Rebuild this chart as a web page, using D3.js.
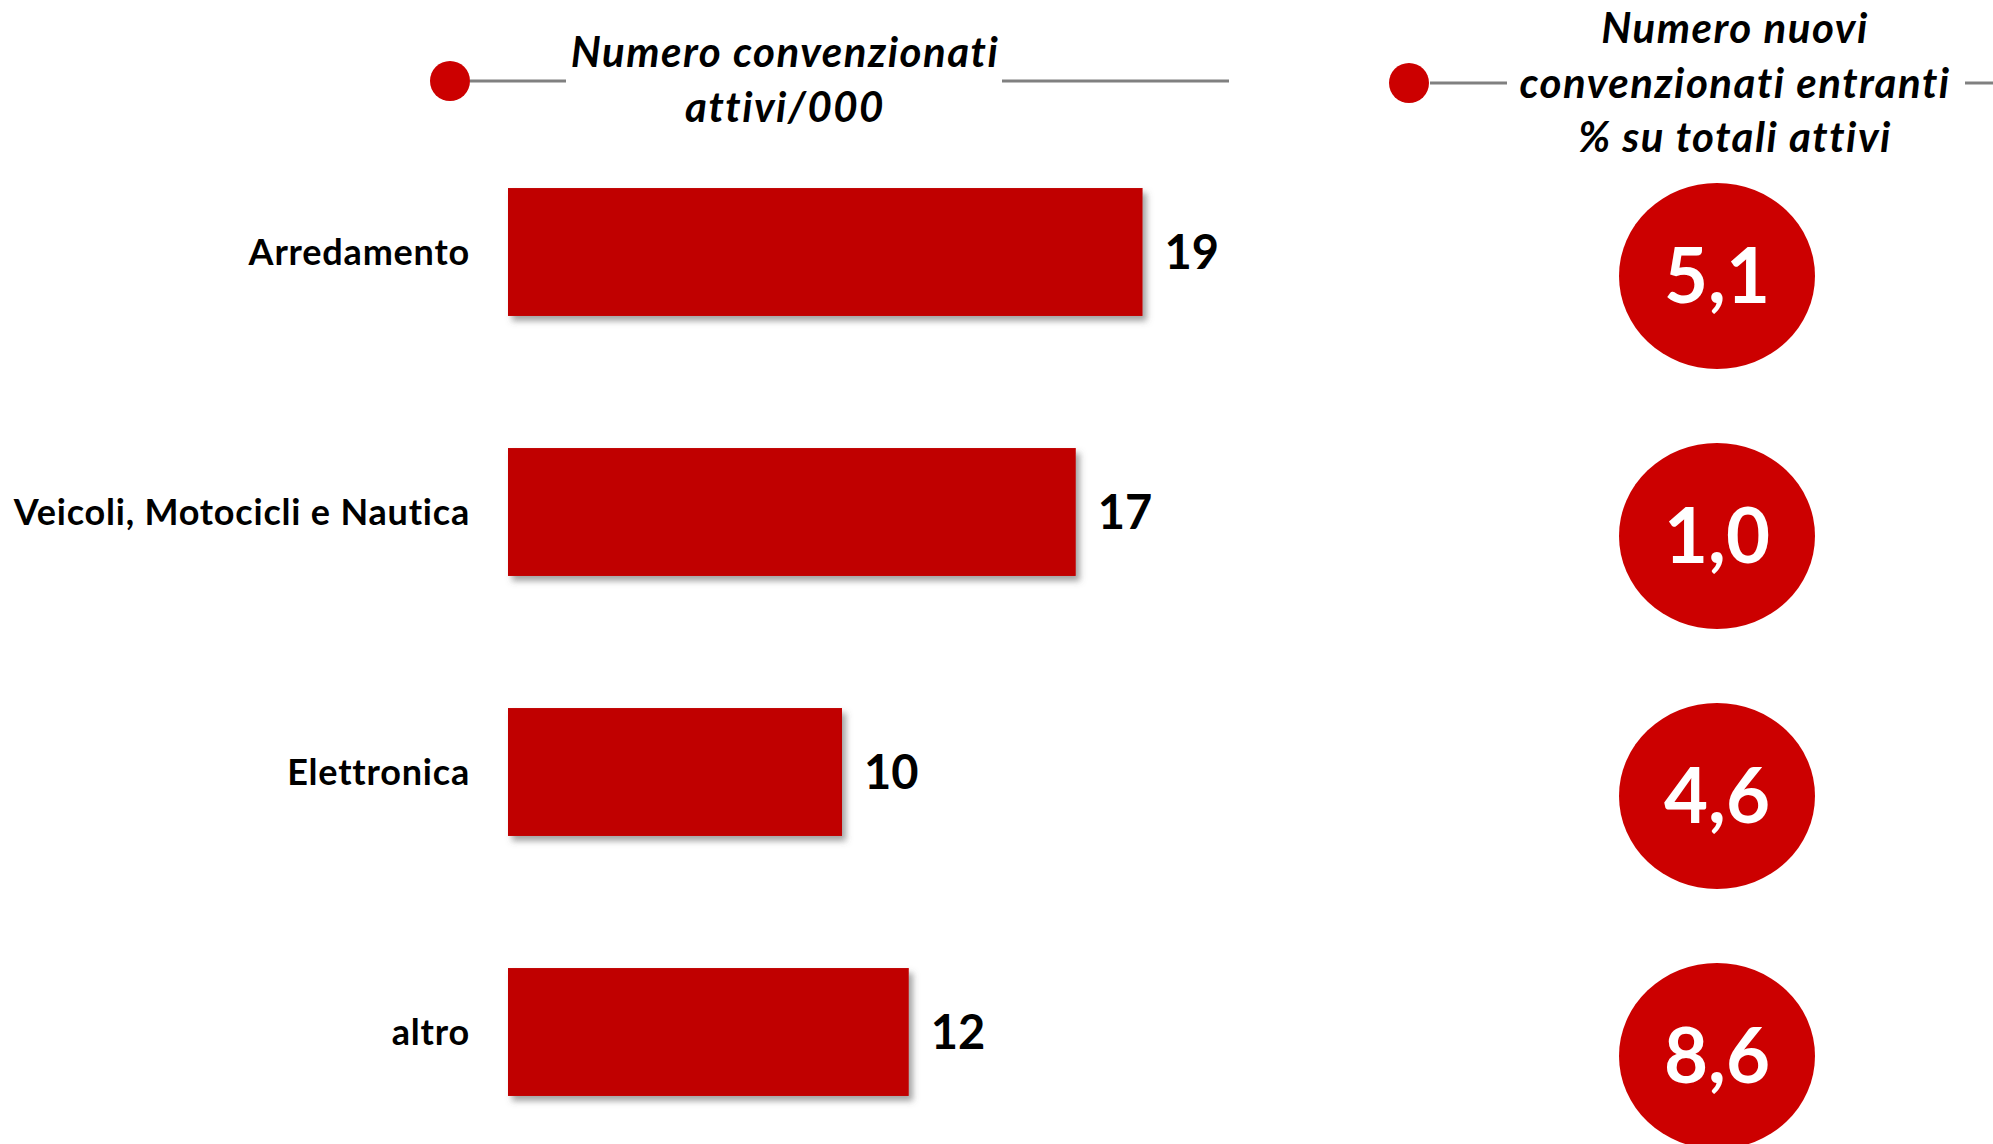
<!DOCTYPE html>
<html>
<head>
<meta charset="utf-8">
<script src="https://cdn.jsdelivr.net/npm/d3@7"></script>
<style>
  html, body { margin: 0; padding: 0; background: #ffffff; }
  svg { display: block; font-family: Lato, "Open Sans", "Noto Sans", sans-serif;
        font-variant-ligatures: none; font-feature-settings: "liga" 0, "clig" 0; }
</style>
</head>
<body>
<svg id="chart" width="1993" height="1144"></svg>
<script>
// Categories and the two measures shown for each of them
const categories = ["Arredamento", "Veicoli, Motocicli e Nautica", "Elettronica", "altro"];
const activeThousands = [19, 17, 10, 12];          // Numero convenzionati attivi/000
const newEntrantsPct = [5.1, 1.0, 4.6, 8.6];       // nuovi entranti, % su totali attivi

// Header texts
const leftTitle = ["Numero convenzionati", "attivi/000"];
const rightTitle = ["Numero nuovi", "convenzionati entranti", "% su totali attivi"];

const barColor = "#C00000";
const dotColor = "#CC0000";
const ruleColor = "#808080";

const svg = d3.select("#chart");

// Soft drop shadow under the bars
const defs = svg.append("defs");
const shadow = defs.append("filter").attr("id", "barShadow")
  .attr("x", "-5%").attr("y", "-10%").attr("width", "115%").attr("height", "130%");
shadow.append("feDropShadow")
  .attr("dx", 4).attr("dy", 5).attr("stdDeviation", 3)
  .attr("flood-color", "#555").attr("flood-opacity", 0.55);

// Scales
const y = d3.scaleBand()
  .domain(categories)
  .range([122, 1162])
  .paddingInner(0.508)
  .paddingOuter(0.254);

const x = d3.scaleLinear()
  .domain([0, 20])
  .range([508, 1176]);

const fmtComma = v => d3.format(".1f")(v).replace(".", ",");

const rows = categories.map((c, i) => ({ cat: c, active: activeThousands[i], pct: newEntrantsPct[i] }));

const titleStyle = sel => sel
  .attr("text-anchor", "middle")
  .attr("font-size", 42).attr("font-weight", 700).attr("font-style", "italic")
  .attr("letter-spacing", 1.5).attr("fill", "#000");

// Header: marker dot, rule and title for the bars
const hdrL = svg.append("g");
hdrL.append("line").attr("x1", 470).attr("x2", 566).attr("y1", 81).attr("y2", 81)
  .attr("stroke", ruleColor).attr("stroke-width", 3);
hdrL.append("line").attr("x1", 1002).attr("x2", 1229).attr("y1", 81).attr("y2", 81)
  .attr("stroke", ruleColor).attr("stroke-width", 3);
hdrL.append("circle").attr("cx", 450).attr("cy", 81).attr("r", 20).attr("fill", dotColor);
hdrL.append("text").call(titleStyle)
  .selectAll("tspan").data(leftTitle).join("tspan")
  .attr("x", 785).attr("y", (d, i) => 67 + i * 55).text(d => d);

// Header for the circles
const hdrR = svg.append("g");
hdrR.append("line").attr("x1", 1430).attr("x2", 1507).attr("y1", 83).attr("y2", 83)
  .attr("stroke", ruleColor).attr("stroke-width", 3);
hdrR.append("line").attr("x1", 1965).attr("x2", 1993).attr("y1", 83).attr("y2", 83)
  .attr("stroke", ruleColor).attr("stroke-width", 3);
hdrR.append("circle").attr("cx", 1409).attr("cy", 83).attr("r", 20).attr("fill", dotColor);
hdrR.append("text").call(titleStyle)
  .selectAll("tspan").data(rightTitle).join("tspan")
  .attr("x", 1735).attr("y", (d, i) => 43 + i * 54.5).text(d => d);

// Category labels
svg.append("g").selectAll("text").data(rows).join("text")
  .attr("x", 470)
  .attr("y", d => y(d.cat) + y.bandwidth() / 2)
  .attr("dy", "0.36em")
  .attr("text-anchor", "end")
  .attr("font-size", 36).attr("font-weight", 700).attr("letter-spacing", 0.8).attr("fill", "#000")
  .text(d => d.cat);

// Bars
svg.append("g").selectAll("rect").data(rows).join("rect")
  .attr("x", x(0))
  .attr("y", d => y(d.cat))
  .attr("width", d => x(d.active) - x(0))
  .attr("height", y.bandwidth())
  .attr("fill", barColor)
  .attr("filter", "url(#barShadow)");

// Bar value labels
svg.append("g").selectAll("text").data(rows).join("text")
  .attr("x", d => x(d.active) + 22)
  .attr("y", d => y(d.cat) + y.bandwidth() / 2)
  .attr("dy", "0.36em")
  .attr("font-size", 47).attr("font-weight", 700).attr("fill", "#000")
  .text(d => d.active);

// Circles with the share of new entrants
const bubbles = svg.append("g").selectAll("g").data(rows).join("g")
  .attr("transform", d => `translate(1717,${y(d.cat) + y.bandwidth() / 2 + 24})`);
bubbles.append("ellipse").attr("rx", 98).attr("ry", 93).attr("fill", dotColor);
bubbles.append("text")
  .attr("text-anchor", "middle")
  .attr("dy", "0.36em")
  .attr("font-size", 76).attr("font-weight", 700).attr("fill", "#fff")
  .text(d => fmtComma(d.pct));
</script>
</body>
</html>
